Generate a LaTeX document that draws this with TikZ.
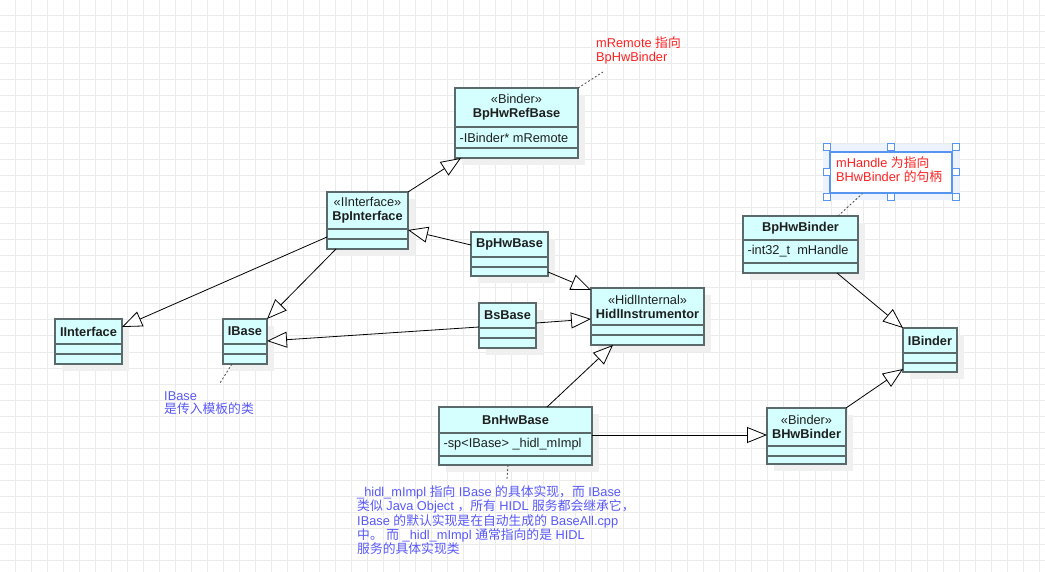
\documentclass[tikz,border=0pt]{standalone}
\usepackage{fontspec}
\setmainfont{Liberation Sans}
\newfontfamily\cjk{Noto Sans CJK SC}
\usetikzlibrary{arrows.meta, positioning, calc}
\definecolor{colBox}{RGB}{213, 255, 255}
\definecolor{colEdge}{RGB}{90, 106, 106}
\definecolor{colGrid}{RGB}{235, 235, 235}
\definecolor{colRed}{RGB}{255, 32, 32}
\definecolor{colBlue}{RGB}{88, 88, 250}
\definecolor{colSel}{RGB}{86, 150, 240}
\definecolor{colHalo}{RGB}{236, 243, 255}
\newcommand{\zh}[1]{{\cjk #1}}
% kelas UML: nama, kiri, atas, kanan, bawah, garis 1, garis 2, judul, atribut
\newcommand{\umlclass}[9]{%
    \fill[black!6] (#2+7, #3+7) rectangle (#4+7, #5+7);
    \node[clsbox, minimum width=#4-#2, minimum height=#5-#3] (#1) at ({(#2+#4)/2}, {(#3+#5)/2}) {};
    \draw[clsedge] (#2, #6) -- (#4, #6) (#2, #7) -- (#4, #7);
    \node[align=center] at ({(#2+#4)/2}, {(#3+#6)/2}) {#8};
    \node[anchor=west] at (#2+1, {(#6+#7)/2}) {#9};
}

\begin{document}
\begin{tikzpicture}[x=1pt, y=-1pt,
    every node/.style={font=\fontsize{12.8}{14}\selectfont, text=black!88},
    clsbox/.style={draw=colEdge, fill=colBox, line width=1.8pt, inner sep=0pt, outer sep=0pt},
    clsedge/.style={draw=colEdge, line width=1.8pt},
    inherit/.style={draw=black, line width=0.8pt, -{Triangle[length=20pt, width=16pt, fill=white]}},
    noteline/.style={draw=black!70, line width=0.8pt, dash pattern=on 2pt off 2pt},
    notetext/.style={font=\fontsize{12.8}{13.3}\selectfont, align=left, inner sep=0pt, anchor=north west}]
    \useasboundingbox (0, 0) rectangle (1045, 572);
    \fill[white] (0, 0) rectangle (1045, 572);
    % grid latar
    \foreach \x in {15, 31, ..., 1045} \draw[colGrid, line width=1pt] (\x, 0) -- (\x, 572);
    \foreach \y in {16, 32, ..., 572} \draw[colGrid, line width=1pt] (0, \y) -- (1045, \y);

    % kelas
    \umlclass{refbase}{455}{88}{578}{158}{127}{148}{«Binder»\\\textbf{BpHwRefBase}}{-IBinder* mRemote}
    \umlclass{bpinterface}{327}{192}{408}{249}{229}{239}{«IInterface»\\\textbf{BpInterface}}{}
    \umlclass{bphwbase}{471}{232}{548}{276}{257}{267}{\textbf{BpHwBase}}{}
    \umlclass{bsbase}{479}{303}{536}{348}{328}{338}{\textbf{BsBase}}{}
    \umlclass{hidl}{591}{288}{704}{345}{325}{335}{«HidlInternal»\\\textbf{HidlInstrumentor}}{}
    \umlclass{iinterface}{55}{319}{122}{364}{344}{354}{\textbf{IInterface}}{}
    \umlclass{ibase}{223}{319}{267}{364}{344}{354}{\textbf{IBase}}{}
    \umlclass{bnhwbase}{439}{407}{592}{465}{433}{456}{\textbf{BnHwBase}}{-sp<IBase> \_hidl\_mImpl}
    \umlclass{bphwbinder}{743}{216}{858}{273}{240}{263}{\textbf{BpHwBinder}}{-int32\_t\ \ mHandle}
    \umlclass{ibinder}{903}{328}{957}{372}{353}{363}{\textbf{IBinder}}{}
    \umlclass{bhwbinder}{767}{408}{846}{464}{446}{456}{«Binder»\\\textbf{BHwBinder}}{}

    % pewarisan
    \draw[inherit] (bpinterface.north east) -- ([xshift=6pt]refbase.south west);
    \draw[inherit] ([yshift=-45pt]bpinterface.north west) -- ([yshift=-8pt]iinterface.north east);
    \draw[inherit] ([xshift=9pt]bpinterface.south west) -- (ibase.north east);
    \draw[inherit] ([yshift=-13pt]bphwbase.north west) -- ([yshift=-38pt]bpinterface.north east);
    \draw[inherit] ([yshift=4pt]bphwbase.south east) -- ([yshift=-2pt]hidl.north west);
    \draw[inherit] ([yshift=-20pt]bsbase.north east) -- ([yshift=-31pt]hidl.north west);
    \draw[inherit] ([yshift=-24pt]bsbase.north west) -- ([yshift=-22pt]ibase.north east);
    \draw[inherit] ([xshift=108pt]bnhwbase.north west) -- ([xshift=22pt]hidl.south west);
    \draw[inherit] ([yshift=-28pt]bnhwbase.north east) -- ([yshift=-27pt]bhwbinder.north west);
    \draw[inherit] ([xshift=-21pt]bphwbinder.south east) -- (ibinder.north west);
    \draw[inherit] (bhwbinder.north east) -- ([yshift=3pt]ibinder.south west);

    % catatan mRemote
    \node[notetext, text=colRed] (remotenote) at (596, 37) {mRemote \zh{指向}\\BpHwBinder};
    \coordinate (remotetip) at (603, 72);
    \draw[noteline] (refbase.north east) -- (remotetip);

    % catatan mHandle (terpilih)
    \fill[colHalo] (823, 144) rectangle (959, 200);
    \node[draw=colSel, fill=white, line width=1.2pt, minimum width=122, minimum height=41, inner sep=0pt] (handlebox) at (891, 172.5) {};
    \foreach \p in {(826.5, 147), (891, 147), (956, 147), (826.5, 172), (956, 172), (826.5, 197), (891, 197), (956, 197)}
        \draw[colSel, fill=white, line width=1pt] \p ++(-3.5, -3.5) rectangle ++(7, 7);
    \node[notetext, text=colRed] (handlenote) at (836, 157) {mHandle \zh{为指向}\\BHwBinder \zh{的句柄}};
    \draw[noteline] ([xshift=95pt]bphwbinder.north west) -- ([xshift=33pt]handlebox.south west);

    % catatan IBase
    \node[notetext, text=colBlue] (ibasenote) at (164, 391) {IBase\\\zh{是传入模板的类}};
    \coordinate (ibasetip) at (220, 383);
    \draw[noteline] ([xshift=9pt]ibase.south west) -- (ibasetip);

    % catatan _hidl_mImpl
    \node[notetext, text=colBlue] (implnote) at (357, 485) {\_hidl\_mImpl \zh{指向} IBase \zh{的具体实现，而} IBase\\
        \zh{类似} Java Object \zh{，所有} HIDL \zh{服务都会继承它，}\\
        IBase \zh{的默认实现是在自动生成的} BaseAll.cpp\\
        \zh{中。} \zh{而} \_hidl\_mImpl \zh{通常指向的是} HIDL\\
        \zh{服务的具体实现类}};
    \coordinate (impltip) at (507, 479);
    \draw[noteline] ([xshift=69pt]bnhwbase.south west) -- (impltip);
\end{tikzpicture}
\end{document}
